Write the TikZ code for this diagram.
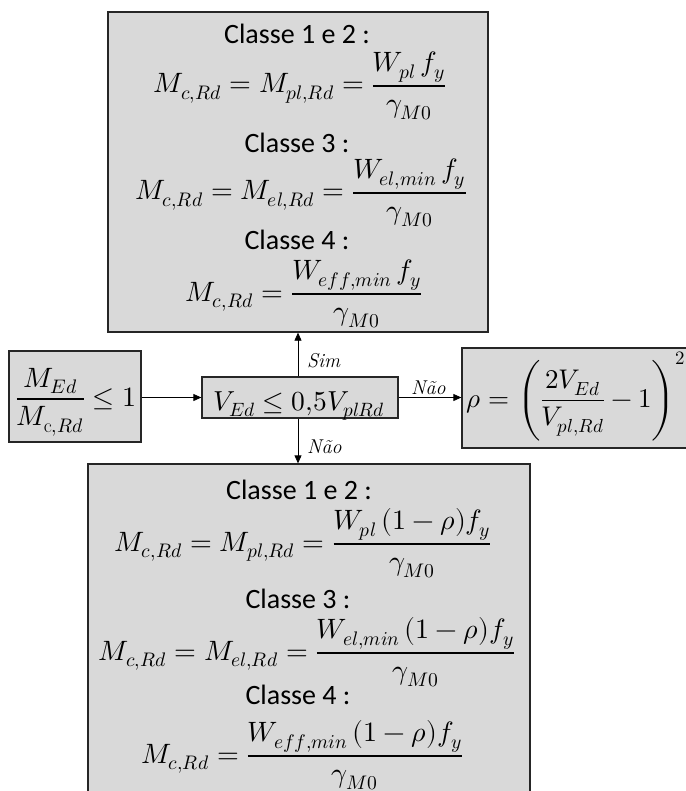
\documentclass[tikz,border=0pt]{standalone}
\usepackage{fontspec}
\usepackage{unicode-math}
\setmathfont{Latin Modern Math}
\newfontfamily\calibri{Carlito}
\usetikzlibrary{arrows.meta}
\definecolor{boxgray}{HTML}{D9D9D9}
\begin{document}
\begin{tikzpicture}[x=1pt,y=-1pt,
  box/.style={draw=black!85, line width=1.3pt, fill=boxgray, inner sep=0pt},
  arr/.style={line width=0.8pt, -{Triangle[length=8pt,width=7pt]}},
  cls/.style={font=\calibri\fontsize{28}{32}\selectfont, inner sep=0pt},
  eq/.style={font=\fontsize{28}{32}\selectfont, inner sep=0pt, anchor=base},
  lab/.style={font=\fontsize{20}{24}\selectfont\itshape, inner sep=0pt, anchor=west}]
\useasboundingbox (0,0) rectangle (685,791);
% boxes
\node[box, minimum width=380pt, minimum height=320pt] (top) at (298,172) {};
\node[box, minimum width=132pt, minimum height=91pt] (left) at (75,396.5) {};
\node[box, minimum width=196pt, minimum height=41pt] (mid) at (300,397.5) {};
\node[box, minimum width=240pt, minimum height=100pt] (right) at (582,398) {};
\node[box, minimum width=442pt, minimum height=346pt] (bot) at (309,637) {};
% top box text
\node[cls] (t1) at (297,34) {Classe 1 e 2 :};
\node[eq] (t2) at (300,93) {$\displaystyle M_{c,Rd} = M_{pl,Rd} = \frac{W_{pl}\, f_y}{\gamma_{M0}}$};
\node[cls] (t3) at (297,143) {Classe 3 :};
\node[eq] (t4) at (301,200) {$\displaystyle M_{c,Rd} = M_{el,Rd} = \frac{W_{el,min}\, f_y}{\gamma_{M0}}$};
\node[cls] (t5) at (297,240) {Classe 4 :};
\node[eq] (t6) at (304,301) {$\displaystyle M_{c,Rd} = \frac{W_{eff,min}\, f_y}{\gamma_{M0}}$};
% bottom box text
\node[cls] (b1) at (299,490) {Classe 1 e 2 :};
\node[eq] (b2) at (303,551) {$\displaystyle M_{c,Rd} = M_{pl,Rd} = \frac{W_{pl}\,(1-\rho) f_y}{\gamma_{M0}}$};
\node[cls] (b3) at (298,599) {Classe 3 :};
\node[eq] (b4) at (307,660) {$\displaystyle M_{c,Rd} = M_{el,Rd} = \frac{W_{el,min}\,(1-\rho) f_y}{\gamma_{M0}}$};
\node[cls] (b5) at (298,695) {Classe 4 :};
\node[eq] (b6) at (302,763) {$\displaystyle M_{c,Rd} = \frac{W_{eff,min}\,(1-\rho) f_y}{\gamma_{M0}}$};
% middle row text
\node[eq] (l1) at (76,406) {$\displaystyle \frac{M_{Ed}}{M_{\mathrm{c},Rd}} \le 1$};
\node[eq, font=\fontsize{27.5}{32}\selectfont] (m1) at (299,410) {$V_{Ed} \le 0{,}5V_{plRd}$};
\node[eq, font=\fontsize{27}{32}\selectfont] (r1) at (576,407) {$\displaystyle \rho = \left(\frac{2V_{Ed}}{V_{pl,Rd}} - 1\right)^{2}$};
% connectors
\draw[arr] (top.south |- mid.north) -- (top.south);
\draw[arr] (top.south |- mid.south) -- (top.south |- bot.north);
\draw[arr] (left.east |- mid.west) -- (mid.west);
\draw[arr] (mid.east) -- (right.west |- mid.east);
% labels
\node[lab] (sim) at (307,361) {Sim};
\node[lab] (nao1) at (411,388) {Não};
\node[lab] (nao2) at (307,447) {Não};
\end{tikzpicture}
\end{document}
